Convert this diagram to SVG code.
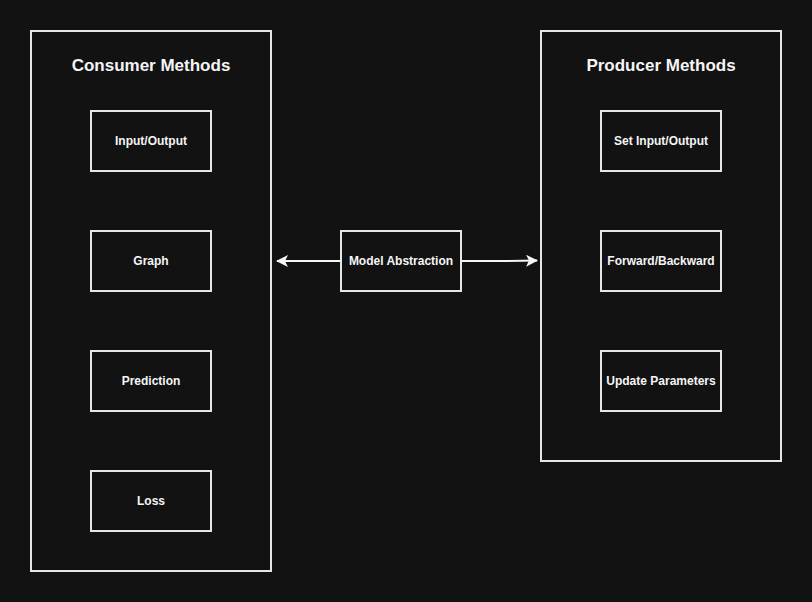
<svg xmlns="http://www.w3.org/2000/svg" width="812" height="602" viewBox="0 0 812 602">
<defs>
<style>
.c{fill:#121212;stroke:#e6e6e6;stroke-width:2}
.n{fill:#121212;stroke:#e6e6e6;stroke-width:2}
.t{font-family:"Liberation Sans",Arial,sans-serif;font-weight:bold;fill:#f5f5f5;text-anchor:middle}
.tt{font-size:17px}
.nt{font-size:12px}
.e{fill:none;stroke:#f5f5f5;stroke-width:2}
</style>
<marker id="ah" viewBox="0 0 12 12" refX="11" refY="6" markerWidth="12" markerHeight="12" markerUnits="userSpaceOnUse" orient="auto">
<path d="M0,0 L12,6 L0,12 L3,6 Z" fill="#f5f5f5"/>
</marker>
</defs>
<rect width="812" height="602" fill="#121212"/>
<g id="consumer">
<rect class="c" x="31" y="31" width="240" height="540"/>
<text class="t tt" x="151" y="71">Consumer Methods</text>
</g>
<g id="producer">
<rect class="c" x="541" y="31" width="240" height="430"/>
<text class="t tt" x="661" y="71">Producer Methods</text>
</g>
<g id="io"><rect class="n" x="91" y="111" width="120" height="60"/><text class="t nt" x="151" y="145">Input/Output</text></g>
<g id="graph"><rect class="n" x="91" y="231" width="120" height="60"/><text class="t nt" x="151" y="265">Graph</text></g>
<g id="prediction"><rect class="n" x="91" y="351" width="120" height="60"/><text class="t nt" x="151" y="385">Prediction</text></g>
<g id="loss"><rect class="n" x="91" y="471" width="120" height="60"/><text class="t nt" x="151" y="505">Loss</text></g>
<g id="setio"><rect class="n" x="601" y="111" width="120" height="60"/><text class="t nt" x="661" y="145">Set Input/Output</text></g>
<g id="fwdbwd"><rect class="n" x="601" y="231" width="120" height="60"/><text class="t nt" x="661" y="265">Forward/Backward</text></g>
<g id="update"><rect class="n" x="601" y="351" width="120" height="60"/><text class="t nt" x="661" y="385">Update Parameters</text></g>
<g id="model"><rect class="n" x="341" y="231" width="120" height="60"/><text class="t nt" x="401" y="265">Model Abstraction</text></g>
<g id="connectors">
<path class="e" d="M341,261 L277,261" marker-end="url(#ah)"/>
<path class="e" d="M461,261 L505,261 L537,260.5" marker-end="url(#ah)"/>
</g>
</svg>
